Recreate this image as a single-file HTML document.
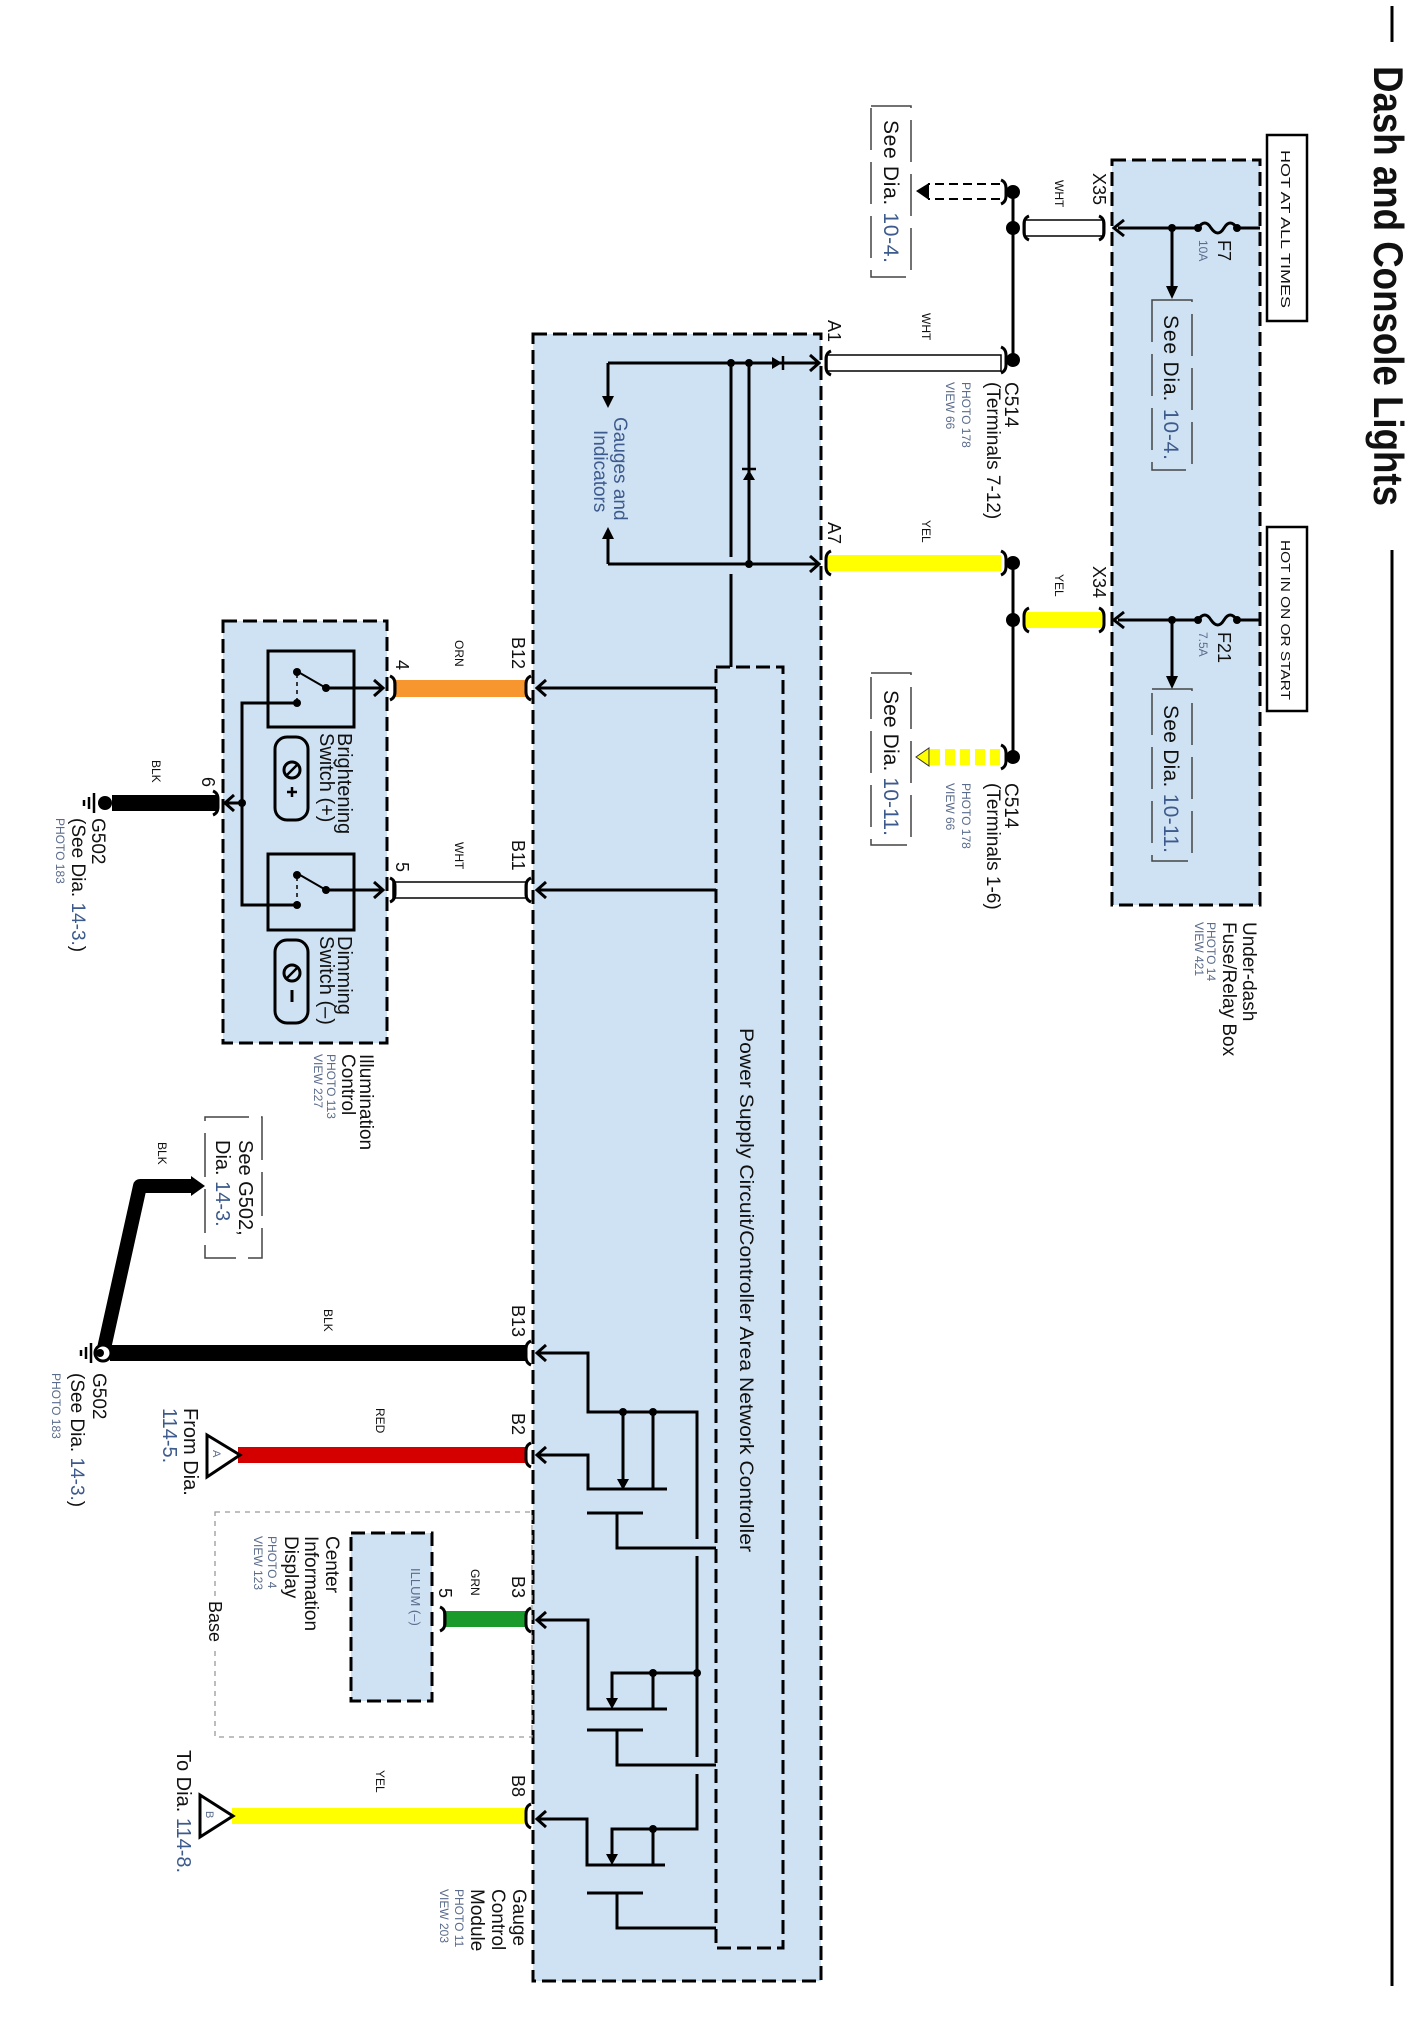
<!DOCTYPE html>
<html><head><meta charset="utf-8"><style>
html,body{margin:0;padding:0;background:#fff}
svg{display:block}
text{font-family:"Liberation Sans",Arial,sans-serif;fill:#111}
.s{fill:#5a6b8c}
.b{fill:#3d5a8c}
</style></head><body>
<svg width="1418" height="2030" viewBox="0 0 1418 2030" xmlns="http://www.w3.org/2000/svg">
<!-- title -->
<line x1="1392" y1="6" x2="1392" y2="42" stroke="#000" stroke-width="3"/>
<line x1="1392" y1="550" x2="1392" y2="1986" stroke="#000" stroke-width="3"/>
<text transform="translate(1374,66) rotate(90)" font-size="42" font-weight="bold" textLength="440" lengthAdjust="spacingAndGlyphs">Dash and Console Lights</text>

<!-- fuse box -->
<rect x="1112" y="160" width="148" height="745" fill="#cfe2f3" stroke="#000" stroke-width="3" stroke-dasharray="14 6"/>
<rect x="1267" y="135" width="40" height="186" fill="#fff" stroke="#000" stroke-width="2.5"/>
<text transform="translate(1281,150) rotate(90)" font-size="13" textLength="158" lengthAdjust="spacingAndGlyphs">HOT AT ALL TIMES</text>
<rect x="1267" y="527" width="40" height="184" fill="#fff" stroke="#000" stroke-width="2.5"/>
<text transform="translate(1281,540) rotate(90)" font-size="13" textLength="160" lengthAdjust="spacingAndGlyphs">HOT IN ON OR START</text>
<g stroke="#000" stroke-width="3" fill="none">
<path d="M1260 228 L1237 228 Q1230 218 1224 228 Q1218 238 1211 228 Q1205 218 1198 228 L1118 228"/>
<polyline points="1124,220 1114,228 1124,236"/>
<line x1="1172" y1="228" x2="1172" y2="292"/>
<path d="M1260 620 L1237 620 Q1230 610 1224 620 Q1218 630 1211 620 Q1205 610 1198 620 L1118 620"/>
<polyline points="1124,612 1114,620 1124,628"/>
<line x1="1172" y1="620" x2="1172" y2="682"/>
</g>
<path d="M1166 286 L1178 286 L1172 299 Z M1166 676 L1178 676 L1172 689 Z" fill="#000"/>
<g fill="#000"><circle cx="1237" cy="228" r="4"/><circle cx="1198" cy="228" r="4"/><circle cx="1172" cy="228" r="4"/>
<circle cx="1237" cy="620" r="4"/><circle cx="1198" cy="620" r="4"/><circle cx="1172" cy="620" r="4"/></g>
<text transform="translate(1218,240) rotate(90)" font-size="18">F7</text>
<text transform="translate(1199,240) rotate(90)" font-size="12" class="s">10A</text>
<text transform="translate(1218,632) rotate(90)" font-size="18">F21</text>
<text transform="translate(1199,632) rotate(90)" font-size="12" class="s">7.5A</text>
<rect x="1152" y="300" width="40" height="170" fill="none" stroke="#444" stroke-width="1.5" stroke-dasharray="42 12"/>
<text transform="translate(1164,315) rotate(90)" font-size="21" textLength="145" lengthAdjust="spacing">See Dia. <tspan class="b">10-4.</tspan></text>
<rect x="1152" y="689" width="40" height="172" fill="none" stroke="#444" stroke-width="1.5" stroke-dasharray="42 12"/>
<text transform="translate(1164,705) rotate(90)" font-size="21" textLength="148" lengthAdjust="spacing">See Dia. <tspan class="b">10-11.</tspan></text>
<text transform="translate(1243,922) rotate(90)" font-size="19">Under-dash</text>
<text transform="translate(1223,922) rotate(90)" font-size="19">Fuse/Relay Box</text>
<text transform="translate(1207,922) rotate(90)" font-size="12" class="s">PHOTO 14</text>
<text transform="translate(1195,922) rotate(90)" font-size="12" class="s">VIEW 421</text>
<text transform="translate(1093,173) rotate(90)" font-size="18">X35</text>
<text transform="translate(1055,180) rotate(90)" font-size="12">WHT</text>
<text transform="translate(1093,566) rotate(90)" font-size="18">X34</text>
<text transform="translate(1055,574) rotate(90)" font-size="12">YEL</text>

<!-- wires near fuse box -->
<rect x="1025" y="220" width="78" height="16" fill="#fff" stroke="#000" stroke-width="1.5"/>
<rect x="1025" y="612" width="78" height="16" fill="#ffff00"/>
<g stroke="#000" stroke-width="3" fill="none">
<path d="M1099 216 Q1104 218 1104 224 L1104 232 Q1104 238 1099 240"/>
<path d="M1029 216 Q1024 218 1024 224 L1024 232 Q1024 238 1029 240"/>
<path d="M1099 608 Q1104 610 1104 616 L1104 624 Q1104 630 1099 632"/>
<path d="M1029 608 Q1024 610 1024 616 L1024 624 Q1024 630 1029 632"/>
<line x1="1013" y1="192" x2="1013" y2="360"/>
<line x1="1013" y1="563" x2="1013" y2="757"/>
<path d="M1001 180 Q1006 182 1006 188 L1006 196 Q1006 202 1001 204"/>
<path d="M1001 347 Q1006 349 1006 355 L1006 365 Q1006 371 1001 373"/>
<path d="M1001 551 Q1006 553 1006 559 L1006 567 Q1006 573 1001 575"/>
<path d="M1001 745 Q1006 747 1006 753 L1006 761 Q1006 767 1001 769"/>
</g>
<g fill="#000"><circle cx="1013" cy="192" r="7"/><circle cx="1013" cy="228" r="7"/><circle cx="1013" cy="360" r="7"/>
<circle cx="1013" cy="563" r="7"/><circle cx="1013" cy="620" r="7"/><circle cx="1013" cy="757" r="7"/></g>
<!-- dashed arrows -->
<g stroke="#000" stroke-width="2" stroke-dasharray="9 5"><line x1="1000" y1="184" x2="928" y2="184"/><line x1="1000" y1="199" x2="928" y2="199"/></g>
<path d="M929 183 L929 200 L916 191 Z" fill="#000"/>
<g fill="#ffff00"><rect x="990" y="749" width="10" height="16"/><rect x="975" y="749" width="10" height="16"/><rect x="960" y="749" width="10" height="16"/><rect x="945" y="749" width="10" height="16"/><rect x="930" y="749" width="10" height="16"/></g>
<path d="M929 748 L929 766 L916 757 Z" fill="#ffff00" stroke="#333" stroke-width="1"/>
<rect x="871" y="106" width="40" height="171" fill="none" stroke="#444" stroke-width="1.5" stroke-dasharray="42 12"/>
<text transform="translate(884,120) rotate(90)" font-size="21" textLength="143" lengthAdjust="spacing">See Dia. <tspan class="b">10-4.</tspan></text>
<rect x="871" y="673" width="40" height="172" fill="none" stroke="#444" stroke-width="1.5" stroke-dasharray="42 12"/>
<text transform="translate(884,690) rotate(90)" font-size="21" textLength="146" lengthAdjust="spacing">See Dia. <tspan class="b">10-11.</tspan></text>
<text transform="translate(1005,382) rotate(90)" font-size="19">C514</text>
<text transform="translate(987,382) rotate(90)" font-size="19">(Terminals 7-12)</text>
<text transform="translate(962,382) rotate(90)" font-size="12" class="s">PHOTO 178</text>
<text transform="translate(946,382) rotate(90)" font-size="12" class="s">VIEW 66</text>
<text transform="translate(1005,783) rotate(90)" font-size="19">C514</text>
<text transform="translate(987,783) rotate(90)" font-size="19">(Terminals 1-6)</text>
<text transform="translate(962,783) rotate(90)" font-size="12" class="s">PHOTO 178</text>
<text transform="translate(946,783) rotate(90)" font-size="12" class="s">VIEW 66</text>

<!-- A1/A7 wires -->
<rect x="827" y="355" width="174" height="16" fill="#fff" stroke="#000" stroke-width="1.5"/>
<rect x="827" y="555" width="174" height="16" fill="#ffff00"/>
<text transform="translate(828,320) rotate(90)" font-size="18">A1</text>
<text transform="translate(922,313) rotate(90)" font-size="12">WHT</text>
<text transform="translate(828,522) rotate(90)" font-size="18">A7</text>
<text transform="translate(922,520) rotate(90)" font-size="12">YEL</text>

<!-- gauge control module -->
<rect x="533" y="334" width="288" height="1647" fill="#cfe2f3" stroke="#000" stroke-width="3" stroke-dasharray="14 6"/>
<rect x="716" y="667" width="67" height="1281" fill="#cfe2f3" stroke="#000" stroke-width="3" stroke-dasharray="14 6"/>
<g stroke="#000" stroke-width="3" fill="none">
<path d="M831 351 Q826 353 826 359 L826 367 Q826 373 831 375"/>
<path d="M831 551 Q826 553 826 559 L826 567 Q826 573 831 575"/>
<line x1="818" y1="363" x2="608" y2="363"/><polyline points="810,355 819,363 810,371"/>
<line x1="608" y1="363" x2="608" y2="398"/>
<line x1="818" y1="564" x2="608" y2="564"/><polyline points="810,556 819,564 810,572"/>
<line x1="608" y1="564" x2="608" y2="537"/>
<line x1="731" y1="363" x2="731" y2="557"/><line x1="731" y1="574" x2="731" y2="667"/>
<line x1="749" y1="363" x2="749" y2="564"/>
</g>
<path d="M602 396 L614 396 L608 408 Z M602 539 L614 539 L608 527 Z" fill="#000"/>
<path d="M772 357 L772 369 L782 363 Z" fill="#000"/><line x1="783" y1="356" x2="783" y2="370" stroke="#000" stroke-width="2.5"/>
<path d="M743 480 L755 480 L749 470 Z" fill="#000"/><line x1="742" y1="469" x2="756" y2="469" stroke="#000" stroke-width="2.5"/>
<g fill="#000"><circle cx="731" cy="363" r="4"/><circle cx="749" cy="363" r="4"/><circle cx="749" cy="564" r="4"/></g>
<text transform="translate(614,417) rotate(90)" font-size="19" class="b">Gauges and</text>
<text transform="translate(594,430) rotate(90)" font-size="19" class="b">Indicators</text>
<text transform="translate(740,1028) rotate(90)" font-size="19" textLength="524" lengthAdjust="spacingAndGlyphs">Power Supply Circuit/Controller Area Network Controller</text>

<!-- B12/B11 -->
<rect x="393" y="680" width="134" height="17" fill="#f7952f"/>
<rect x="393" y="882" width="134" height="16" fill="#fff" stroke="#000" stroke-width="1.5"/>
<g stroke="#000" stroke-width="3" fill="none">
<line x1="716" y1="688" x2="537" y2="688"/><polyline points="546,680 537,688 546,696"/>
<line x1="716" y1="890" x2="537" y2="890"/><polyline points="546,882 537,890 546,898"/>
<path d="M531 676 Q526 678 526 684 L526 692 Q526 698 531 700"/>
<path d="M531 878 Q526 880 526 886 L526 894 Q526 900 531 902"/>
<path d="M390 676 Q395 678 395 684 L395 692 Q395 698 390 700"/>
<path d="M390 878 Q395 880 395 886 L395 894 Q395 900 390 902"/>
</g>
<text transform="translate(512,637) rotate(90)" font-size="18">B12</text>
<text transform="translate(455,640) rotate(90)" font-size="12">ORN</text>
<text transform="translate(396,660) rotate(90)" font-size="18">4</text>
<text transform="translate(512,840) rotate(90)" font-size="18">B11</text>
<text transform="translate(455,842) rotate(90)" font-size="12">WHT</text>
<text transform="translate(396,862) rotate(90)" font-size="18">5</text>

<!-- illumination control -->
<rect x="223" y="621" width="164" height="422" fill="#cfe2f3" stroke="#000" stroke-width="3" stroke-dasharray="14 6"/>
<g stroke="#000" stroke-width="3" fill="none">
<rect x="268" y="651" width="86" height="76"/>
<rect x="268" y="854" width="86" height="76"/>
<line x1="326" y1="688" x2="300" y2="673" stroke-width="2"/>
<line x1="326" y1="688" x2="382" y2="688"/><polyline points="374,680 383,688 374,696"/>
<line x1="326" y1="890" x2="300" y2="875" stroke-width="2"/>
<line x1="326" y1="890" x2="382" y2="890"/><polyline points="374,882 383,890 374,898"/>
<polyline points="297,703 242,703 242,905 297,905"/>
<line x1="242" y1="803" x2="226" y2="803"/><polyline points="234,795 225,803 234,811"/>
<rect x="275" y="737" width="33" height="83" rx="12"/>
<rect x="275" y="940" width="33" height="83" rx="12"/>
<circle cx="292" cy="770" r="8"/><line x1="286" y1="776" x2="298" y2="764" stroke-width="2.5"/>
<circle cx="292" cy="973" r="8"/><line x1="286" y1="979" x2="298" y2="967" stroke-width="2.5"/>
<line x1="292" y1="787" x2="292" y2="797" stroke-width="2.5"/><line x1="287" y1="792" x2="297" y2="792" stroke-width="2.5"/>
<line x1="292" y1="990" x2="292" y2="1002" stroke-width="3"/>
</g>
<line x1="297" y1="674" x2="297" y2="702" stroke="#000" stroke-width="1.5" stroke-dasharray="4 4"/>
<line x1="297" y1="877" x2="297" y2="904" stroke="#000" stroke-width="1.5" stroke-dasharray="4 4"/>
<g fill="#000"><circle cx="297" cy="672" r="4"/><circle cx="297" cy="703" r="4"/><circle cx="326" cy="688" r="4"/>
<circle cx="297" cy="875" r="4"/><circle cx="297" cy="905" r="4"/><circle cx="326" cy="890" r="4"/><circle cx="242" cy="803" r="4"/></g>
<text transform="translate(338,733) rotate(90)" font-size="20">Brightening</text>
<text transform="translate(320,733) rotate(90)" font-size="20">Switch (+)</text>
<text transform="translate(338,936) rotate(90)" font-size="20">Dimming</text>
<text transform="translate(320,936) rotate(90)" font-size="20">Switch (–)</text>
<text transform="translate(360,1054) rotate(90)" font-size="19">Illumination</text>
<text transform="translate(342,1054) rotate(90)" font-size="19">Control</text>
<text transform="translate(327,1054) rotate(90)" font-size="12" class="s">PHOTO 113</text>
<text transform="translate(314,1054) rotate(90)" font-size="12" class="s">VIEW 227</text>
<!-- ground 6 -->
<rect x="112" y="795" width="105" height="16" fill="#000"/>
<path d="M213 791 Q218 793 218 799 L218 807 Q218 813 213 815" stroke="#000" stroke-width="3" fill="none"/>
<circle cx="105" cy="803" r="7" fill="#000"/>
<g stroke="#000" stroke-width="2.5"><line x1="94" y1="793" x2="94" y2="813"/><line x1="89" y1="797" x2="89" y2="809"/><line x1="84" y1="800" x2="84" y2="806"/></g>
<text transform="translate(202,777) rotate(90)" font-size="18">6</text>
<text transform="translate(152,760) rotate(90)" font-size="12">BLK</text>
<text transform="translate(92,818) rotate(90)" font-size="19">G502</text>
<text transform="translate(72,818) rotate(90)" font-size="19">(See  Dia.  <tspan class="b">14-3.</tspan>)</text>
<text transform="translate(56,818) rotate(90)" font-size="12" class="s">PHOTO 183</text>

<!-- See G502 -->
<rect x="205" y="1117" width="57" height="141" fill="none" stroke="#444" stroke-width="1.5" stroke-dasharray="44 12"/>
<text transform="translate(239,1140) rotate(90)" font-size="20">See G502,</text>
<text transform="translate(216,1140) rotate(90)" font-size="20">Dia. <tspan class="b">14-3.</tspan></text>
<text transform="translate(158,1142) rotate(90)" font-size="12">BLK</text>
<polyline points="192,1186 140,1186 103,1353" fill="none" stroke="#000" stroke-width="14" stroke-linejoin="round"/>
<path d="M191 1176 L191 1196 L205 1186 Z" fill="#000"/>
<!-- B13 -->
<rect x="110" y="1345" width="417" height="16" fill="#000"/>
<circle cx="103" cy="1353" r="8" fill="#fff" stroke="#000" stroke-width="3"/>
<circle cx="100" cy="1353" r="4" fill="#000"/>
<g stroke="#000" stroke-width="2.5"><line x1="91" y1="1343" x2="91" y2="1363"/><line x1="86" y1="1347" x2="86" y2="1359"/><line x1="81" y1="1350" x2="81" y2="1356"/></g>
<text transform="translate(512,1305) rotate(90)" font-size="18">B13</text>
<text transform="translate(324,1309) rotate(90)" font-size="12">BLK</text>
<text transform="translate(93,1373) rotate(90)" font-size="19">G502</text>
<text transform="translate(71,1373) rotate(90)" font-size="19">(See  Dia.  <tspan class="b">14-3.</tspan>)</text>
<text transform="translate(52,1373) rotate(90)" font-size="12" class="s">PHOTO 183</text>
<!-- B2 -->
<rect x="238" y="1447" width="289" height="16" fill="#d40000"/>
<path d="M240 1455 L207 1435 L207 1477 Z" fill="#fff" stroke="#000" stroke-width="3" stroke-linejoin="miter"/>
<text transform="translate(213,1450) rotate(90)" font-size="11" class="s">A</text>
<text transform="translate(512,1413) rotate(90)" font-size="18">B2</text>
<text transform="translate(376,1408) rotate(90)" font-size="12">RED</text>
<text transform="translate(184,1408) rotate(90)" font-size="20">From Dia.</text>
<text transform="translate(163,1408) rotate(90)" font-size="20" class="b">114-5.</text>
<!-- CID -->
<rect x="215" y="1512" width="317" height="225" fill="none" stroke="#999" stroke-width="1.3" stroke-dasharray="5 5"/>
<rect x="351" y="1533" width="81" height="168" fill="#cfe2f3" stroke="#000" stroke-width="3" stroke-dasharray="14 6"/>
<text transform="translate(411,1568) rotate(90)" font-size="13" class="s">ILLUM (–)</text>
<rect x="443" y="1611" width="84" height="16" fill="#1a9a2a"/>
<g stroke="#000" stroke-width="3" fill="none">
<path d="M440 1607 Q445 1609 445 1615 L445 1623 Q445 1629 440 1631"/>
</g>
<text transform="translate(439,1588) rotate(90)" font-size="18">5</text>
<text transform="translate(471,1569) rotate(90)" font-size="12">GRN</text>
<text transform="translate(512,1576) rotate(90)" font-size="18">B3</text>
<text transform="translate(326,1536) rotate(90)" font-size="19">Center</text>
<text transform="translate(305,1536) rotate(90)" font-size="19">Information</text>
<text transform="translate(285,1536) rotate(90)" font-size="19">Display</text>
<text transform="translate(268,1536) rotate(90)" font-size="12" class="s">PHOTO 4</text>
<text transform="translate(254,1536) rotate(90)" font-size="12" class="s">VIEW 123</text>
<rect x="206" y="1598" width="22" height="52" fill="#fff"/>
<text transform="translate(209,1601) rotate(90)" font-size="18">Base</text>
<!-- B8 -->
<rect x="232" y="1808" width="295" height="16" fill="#ffff00"/>
<path d="M233 1816 L200 1795 L200 1837 Z" fill="#fff" stroke="#000" stroke-width="3"/>
<text transform="translate(206,1811) rotate(90)" font-size="11" class="s">B</text>
<text transform="translate(512,1775) rotate(90)" font-size="18">B8</text>
<text transform="translate(376,1770) rotate(90)" font-size="12">YEL</text>
<text transform="translate(177,1750) rotate(90)" font-size="20">To Dia.  <tspan class="b">114-8.</tspan></text>
<text transform="translate(513,1889) rotate(90)" font-size="19">Gauge</text>
<text transform="translate(492,1889) rotate(90)" font-size="19">Control</text>
<text transform="translate(471,1889) rotate(90)" font-size="19">Module</text>
<text transform="translate(455,1889) rotate(90)" font-size="12" class="s">PHOTO 11</text>
<text transform="translate(440,1889) rotate(90)" font-size="12" class="s">VIEW 203</text>

<g stroke="#000" stroke-width="3" fill="none">
<path d="M531 1341 Q526 1343 526 1349 L526 1357 Q526 1363 531 1365"/>
<path d="M531 1443 Q526 1445 526 1451 L526 1459 Q526 1465 531 1467"/>
<path d="M531 1608 Q526 1610 526 1616 L526 1624 Q526 1630 531 1632"/>
<path d="M531 1804 Q526 1806 526 1812 L526 1820 Q526 1826 531 1828"/>
<polyline points="537,1353 588,1353 588,1412 697,1412 697,1539"/>
<polyline points="537,1455 588,1455 588,1489 667,1489"/>
<line x1="623" y1="1412" x2="623" y2="1482"/>
<line x1="653" y1="1412" x2="653" y2="1489"/>
<line x1="587" y1="1513" x2="643" y2="1513"/>
<polyline points="617,1513 617,1548 716,1548"/>
<line x1="697" y1="1556" x2="697" y2="1757"/>
<polyline points="537,1620 588,1620 588,1709 667,1709"/>
<polyline points="612,1702 612,1673 697,1673"/>
<line x1="653" y1="1673" x2="653" y2="1709"/>
<line x1="587" y1="1730" x2="643" y2="1730"/>
<polyline points="617,1730 617,1765 716,1765"/>
<polyline points="697,1774 697,1829 612,1829 612,1858"/>
<polyline points="537,1819 587,1819 587,1865 665,1865"/>
<line x1="653" y1="1829" x2="653" y2="1865"/>
<line x1="587" y1="1893" x2="643" y2="1893"/>
<polyline points="617,1893 617,1928 716,1928"/>
<polyline points="546,1345 537,1353 546,1361"/>
<polyline points="546,1447 537,1455 546,1463"/>
<polyline points="546,1612 537,1620 546,1628"/>
<polyline points="546,1811 537,1819 546,1827"/>
</g>
<path d="M617 1479 L629 1479 L623 1490 Z M606 1698 L618 1698 L612 1709 Z M606 1854 L618 1854 L612 1865 Z" fill="#000"/>
<g fill="#000"><circle cx="623" cy="1412" r="4"/><circle cx="653" cy="1412" r="4"/><circle cx="653" cy="1673" r="4"/><circle cx="697" cy="1673" r="4"/><circle cx="653" cy="1829" r="4"/></g>
</svg>
</body></html>
